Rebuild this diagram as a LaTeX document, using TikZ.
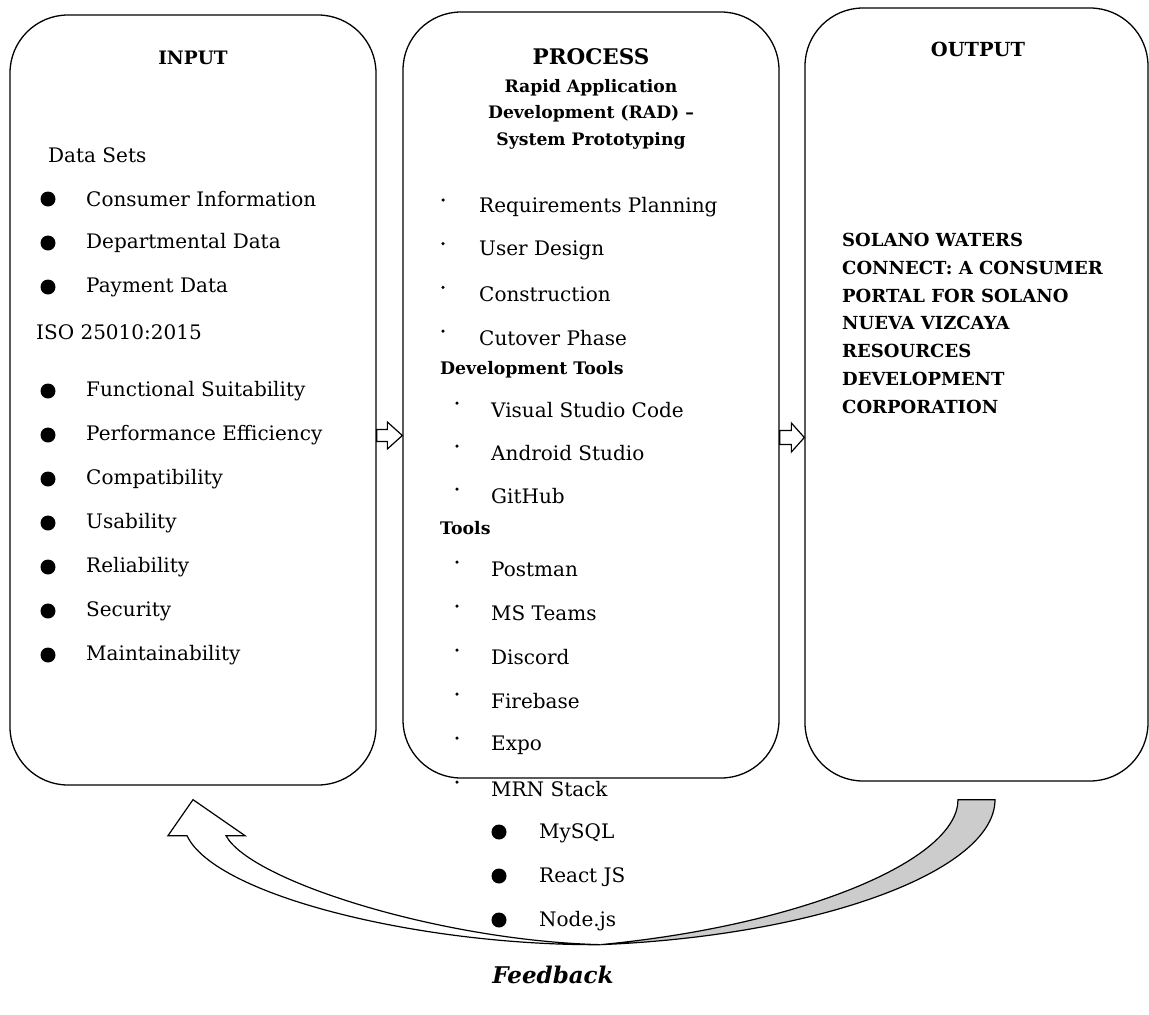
\documentclass[tikz,border=0pt]{standalone}
\usepackage{fontspec}
\setmainfont{DejaVu Serif}
\usetikzlibrary{calc}
\begin{document}
\begin{tikzpicture}[x=1pt,y=-1pt,
  box/.style={draw, line width=1.3pt, rounded corners=58pt, inner sep=0pt},
  txt/.style={anchor=west, inner sep=0pt, font=\fontsize{20}{24}\selectfont},
  head/.style={inner sep=0pt, font=\bfseries\fontsize{18.5}{22}\selectfont},
  subhead/.style={inner sep=0pt, anchor=west, font=\bfseries\fontsize{17.3}{22}\selectfont},
  bigdot/.style={circle, fill, inner sep=0pt, minimum size=15pt},
  smalldot/.style={circle, fill, inner sep=0pt, minimum size=3.5pt},
  hollow/.style={draw, line width=1.2pt, fill=white, line join=miter},
  ribbon/.style={draw, line width=1.2pt}
]
\useasboundingbox (0,0) rectangle (1149,1015);

% boxes
\node[box, minimum width=366pt, minimum height=770pt] (input) at (193,400) {};
\node[box, minimum width=376pt, minimum height=766pt] (process) at (591,395) {};
\node[box, minimum width=343pt, minimum height=773pt] (output) at (976.5,394.5) {};

% arrows between boxes
\coordinate (ya) at (0,435.5);
\coordinate (yb) at (0,437.5);
\coordinate (a1) at (input.east |- ya);
\coordinate (a2) at (process.west |- ya);
\coordinate (b1) at (process.east |- yb);
\coordinate (b2) at (output.west |- yb);
\draw[hollow] ($(a1)+(0,-6)$) -- ($(a2)+(-15,-6)$) -- ($(a2)+(-15,-13.5)$) -- (a2)
  -- ($(a2)+(-15,13.5)$) -- ($(a2)+(-15,6)$) -- ($(a1)+(0,6)$) -- cycle;
\draw[hollow] ($(b1)+(0,-7)$) -- ($(b2)+(-13,-7)$) -- ($(b2)+(-13,-14.5)$) -- (b2)
  -- ($(b2)+(-13,14.5)$) -- ($(b2)+(-13,7)$) -- ($(b1)+(0,7)$) -- cycle;

% feedback arrow
\coordinate (ft) at ($(output.south)+(0,18)$);
\coordinate (fh) at ($(input.south)+(0,14)$);
\coordinate (fm) at ($(fh)!0.52!(ft)+(0,145)$);
\draw[ribbon, fill=gray!40] ($(ft)+(-18.5,0)$) -- ($(ft)+(18.5,0)$)
  .. controls ($(ft)+(18.5,71)$) and ($(fm)+(220,-9)$) .. (fm)
  .. controls ($(fm)+(200,-19)$) and ($(ft)+(-18.5,61)$) .. cycle;
\draw[ribbon, fill=white, line join=miter] ($(fh)+(-6,36)$)
  .. controls ($(fh)+(22,96)$) and ($(fm)+(-180,1)$) .. (fm)
  .. controls ($(fm)+(-160,-4)$) and ($(fh)+(57,81)$) .. ($(fh)+(33,36)$)
  -- ($(fh)+(52,36)$) -- (fh) -- ($(fh)+(-25,36)$) -- cycle;

% INPUT
\node[head] (inh) at (193,58) {INPUT};
\node[txt] (ds) at (48,155) {Data Sets};
\foreach \t [count=\i] in {Consumer Information, Departmental Data, Payment Data} {
  \node[bigdot] (dsb\i) at (48,{155+44*\i}) {};
  \node[txt] (dst\i) at (86,{155+44*\i}) {\t};
}
\node[txt] (iso) at (36,332) {ISO 25010:2015};
\foreach \t [count=\i] in {Functional Suitability, Performance Efficiency, Compatibility, Usability, Reliability, Security, Maintainability} {
  \node[bigdot] (isob\i) at (48,{347+44*\i}) {};
  \node[txt] (isot\i) at (86,{347+44*\i}) {\t};
}

% PROCESS
\node[inner sep=0pt, font=\bfseries\fontsize{21.5}{24}\selectfont] (ph) at (591,57) {PROCESS};
\node[inner sep=0pt, align=center, font=\bfseries\fontsize{17.2}{26.5}\selectfont] (rad) at (591,114)
  {Rapid Application\\Development (RAD) –\\System Prototyping};
\foreach \t [count=\i] in {Requirements Planning, User Design, Construction, Cutover Phase} {
  \node[smalldot] (rb\i) at (443,{200+43.7*(\i-1)}) {};
  \node[txt] (rt\i) at (479,{207+43.7*(\i-1)}) {\t};
}
\node[subhead] (dth) at (440,370) {Development Tools};
\foreach \t [count=\i] in {Visual Studio Code, Android Studio, GitHub} {
  \node[smalldot] (db\i) at (457,{403+43*(\i-1)}) {};
  \node[txt] (dt\i) at (491,{410+43*(\i-1)}) {\t};
}
\node[subhead] (th) at (440,528) {Tools};
\foreach \t [count=\i] in {Postman, MS Teams, Discord, Firebase, Expo, MRN Stack} {
  \node[smalldot] (tb\i) at (457,{562+44*(\i-1)}) {};
  \node[txt] (tt\i) at (491,{569+44*(\i-1)}) {\t};
}
\foreach \t [count=\i] in {MySQL, React JS, Node.js} {
  \node[bigdot] (sb\i) at (499,{832+44*(\i-1)}) {};
  \node[txt] (st\i) at (539,{833+44*(\i-1)}) {\t};
}

% OUTPUT
\node[inner sep=0pt, font=\bfseries\fontsize{19.4}{22}\selectfont] (oh) at (978,49) {OUTPUT};
\node[inner sep=0pt, anchor=north west, align=left, font=\bfseries\fontsize{18}{27.8}\selectfont] (ot) at (842,233)
  {SOLANO WATERS\\CONNECT: A CONSUMER\\PORTAL FOR SOLANO\\NUEVA VIZCAYA\\RESOURCES\\DEVELOPMENT\\CORPORATION};

% Feedback label
\node[inner sep=0pt, font=\bfseries\itshape\fontsize{23}{28}\selectfont] (fb) at (553,975) {Feedback};
\end{tikzpicture}
\end{document}
